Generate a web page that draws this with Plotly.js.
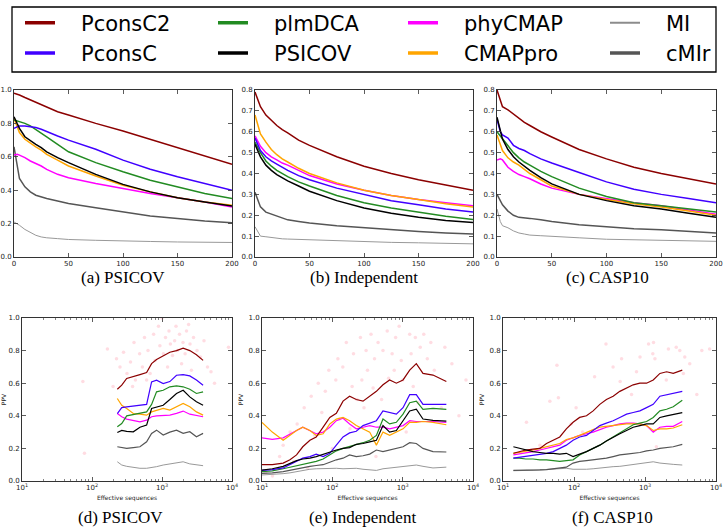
<!DOCTYPE html>
<html><head><meta charset="utf-8">
<script src="https://cdn.plot.ly/plotly-3.0.1.min.js"></script>
<style>html,body{margin:0;padding:0;background:#fff}#chart{width:725px;height:529px}</style>
</head><body><div id="chart"></div>
<script>
// ---------- series meta ----------
const seriesNames  = ['PconsC2','PconsC','plmDCA','PSICOV','phyCMAP','CMAPpro','MI','cMIr'];
const seriesColors = ['#8b0000','#4000ff','#228b22','#000000','#ff00ff','#ffa500','#8c8c8c','#555555'];
const legendColumn = ['legend','legend','legend2','legend2','legend3','legend3','legend4','legend4'];

// ---------- top row: PPV vs number of contacts ----------
const rankX = [0,3,5,10,15,20,25,30,40,50,75,100,125,150,175,200];

const A_PconsC2 = [0.98,0.975,0.97,0.955,0.94,0.925,0.91,0.895,0.87,0.85,0.80,0.755,0.705,0.655,0.605,0.555];
const A_PconsC  = [0.77,0.78,0.785,0.785,0.78,0.775,0.765,0.75,0.725,0.70,0.645,0.58,0.525,0.48,0.44,0.40];
const A_plmDCA  = [0.82,0.815,0.81,0.80,0.785,0.765,0.745,0.72,0.675,0.63,0.565,0.51,0.46,0.42,0.38,0.35];
const A_PSICOV  = [0.84,0.80,0.77,0.72,0.695,0.675,0.655,0.63,0.595,0.565,0.495,0.435,0.39,0.355,0.33,0.305];
const A_phyCMAP = [0.61,0.615,0.61,0.595,0.575,0.56,0.545,0.525,0.495,0.475,0.44,0.41,0.38,0.355,0.33,0.30];
const A_CMAPpro = [0.83,0.78,0.745,0.705,0.68,0.66,0.64,0.615,0.58,0.545,0.485,0.43,0.39,0.355,0.33,0.31];
const A_MI      = [0.21,0.20,0.19,0.165,0.145,0.13,0.12,0.115,0.11,0.105,0.10,0.095,0.093,0.09,0.088,0.087];
const A_cMIr    = [0.66,0.55,0.47,0.42,0.39,0.37,0.36,0.35,0.335,0.32,0.295,0.27,0.245,0.23,0.215,0.205];

const B_PconsC2 = [0.79,0.75,0.72,0.68,0.655,0.63,0.61,0.595,0.56,0.535,0.48,0.435,0.40,0.37,0.345,0.32];
const B_PconsC  = [0.57,0.53,0.51,0.48,0.46,0.445,0.43,0.415,0.39,0.37,0.33,0.30,0.27,0.25,0.23,0.215];
const B_plmDCA  = [0.55,0.52,0.50,0.46,0.435,0.415,0.40,0.385,0.36,0.34,0.295,0.26,0.235,0.215,0.195,0.18];
const B_PSICOV  = [0.54,0.50,0.48,0.44,0.415,0.395,0.38,0.365,0.34,0.315,0.27,0.235,0.21,0.19,0.175,0.165];
const B_phyCMAP = [0.58,0.545,0.53,0.50,0.48,0.465,0.45,0.44,0.415,0.39,0.35,0.32,0.295,0.275,0.26,0.245];
const B_CMAPpro = [0.68,0.62,0.59,0.55,0.515,0.49,0.47,0.455,0.425,0.40,0.355,0.32,0.295,0.275,0.255,0.24];
const B_MI      = [0.145,0.12,0.10,0.097,0.093,0.09,0.087,0.086,0.084,0.082,0.077,0.073,0.07,0.068,0.065,0.063];
const B_cMIr    = [0.31,0.27,0.24,0.215,0.205,0.195,0.185,0.178,0.17,0.163,0.15,0.14,0.13,0.122,0.115,0.11];

const C_PconsC2 = [0.80,0.75,0.72,0.705,0.685,0.665,0.645,0.63,0.60,0.575,0.515,0.47,0.43,0.40,0.375,0.35];
const C_PconsC  = [0.66,0.60,0.585,0.57,0.535,0.52,0.51,0.495,0.47,0.45,0.405,0.36,0.325,0.30,0.28,0.26];
const C_plmDCA  = [0.60,0.58,0.565,0.535,0.50,0.475,0.455,0.44,0.41,0.385,0.33,0.29,0.26,0.245,0.23,0.215];
const C_PSICOV  = [0.67,0.60,0.565,0.515,0.48,0.455,0.435,0.415,0.38,0.35,0.30,0.27,0.245,0.23,0.21,0.19];
const C_phyCMAP = [0.465,0.47,0.465,0.43,0.41,0.395,0.385,0.375,0.35,0.33,0.30,0.28,0.26,0.245,0.225,0.205];
const C_CMAPpro = [0.585,0.54,0.51,0.475,0.455,0.44,0.42,0.40,0.37,0.34,0.30,0.275,0.255,0.24,0.22,0.20];
const C_MI      = [0.23,0.17,0.15,0.14,0.125,0.115,0.11,0.105,0.102,0.10,0.092,0.085,0.082,0.08,0.077,0.075];
const C_cMIr    = [0.30,0.27,0.25,0.22,0.20,0.19,0.188,0.185,0.178,0.17,0.155,0.145,0.135,0.13,0.122,0.115];

// ---------- bottom row: PPV vs effective sequences ----------
const dX = [230,266,313,389,484,603,710,836,1040,1294,1611,2005,2495,3105,3864];
const D_PconsC2 = [0.563,0.588,0.629,0.639,0.653,0.665,0.72,0.745,0.77,0.79,0.80,0.815,0.80,0.775,0.74];
const D_PconsC  = [0.414,0.45,0.455,0.46,0.465,0.47,0.608,0.618,0.598,0.61,0.649,0.653,0.645,0.62,0.588];
const D_plmDCA  = [0.333,0.353,0.40,0.408,0.415,0.424,0.47,0.547,0.557,0.578,0.584,0.578,0.563,0.537,0.547];
const D_PSICOV  = [0.298,0.31,0.305,0.302,0.33,0.343,0.445,0.455,0.465,0.50,0.537,0.557,0.516,0.486,0.465];
const D_phyCMAP = [0.414,0.394,0.38,0.37,0.363,0.373,0.394,0.40,0.404,0.404,0.415,0.429,0.41,0.404,0.394];
const D_CMAPpro = [0.506,0.465,0.445,0.414,0.41,0.404,0.424,0.435,0.445,0.435,0.455,0.476,0.455,0.424,0.404];
const D_MI      = [0.118,0.098,0.09,0.082,0.078,0.078,0.082,0.088,0.098,0.105,0.112,0.118,0.105,0.098,0.094];
const D_cMIr    = [0.21,0.205,0.20,0.205,0.21,0.241,0.292,0.312,0.282,0.30,0.312,0.292,0.302,0.271,0.292];

const eX = [10,14,20,25,31,38,48,59,74,92,114,142,176,219,273,340,423,525,653,813,1012,1259,1563,1945,2698,4178];
const E_PconsC2 = [0.10,0.10,0.11,0.13,0.16,0.21,0.25,0.27,0.33,0.39,0.415,0.49,0.52,0.50,0.49,0.52,0.55,0.59,0.62,0.60,0.62,0.68,0.72,0.66,0.65,0.61];
const E_PconsC  = [0.065,0.07,0.08,0.10,0.12,0.14,0.15,0.165,0.15,0.17,0.22,0.27,0.295,0.305,0.34,0.355,0.37,0.43,0.42,0.41,0.45,0.53,0.53,0.47,0.47,0.47];
const E_plmDCA  = [0.057,0.062,0.075,0.085,0.095,0.10,0.11,0.12,0.135,0.16,0.185,0.20,0.21,0.22,0.235,0.25,0.28,0.38,0.35,0.36,0.41,0.48,0.49,0.44,0.445,0.44];
const E_PSICOV  = [0.067,0.075,0.09,0.11,0.125,0.135,0.14,0.15,0.165,0.18,0.19,0.20,0.205,0.225,0.23,0.24,0.25,0.34,0.30,0.31,0.37,0.43,0.44,0.38,0.372,0.367];
const E_phyCMAP = [0.265,0.255,0.265,0.29,0.31,0.33,0.31,0.29,0.30,0.33,0.37,0.385,0.35,0.32,0.33,0.34,0.33,0.33,0.32,0.33,0.34,0.37,0.365,0.365,0.365,0.36];
const E_CMAPpro = [0.36,0.30,0.25,0.28,0.31,0.33,0.31,0.28,0.29,0.35,0.38,0.39,0.37,0.34,0.32,0.30,0.22,0.30,0.28,0.30,0.32,0.36,0.36,0.365,0.36,0.345];
const E_MI      = [0.037,0.04,0.045,0.05,0.058,0.065,0.072,0.075,0.077,0.078,0.078,0.075,0.078,0.078,0.072,0.07,0.065,0.075,0.08,0.085,0.09,0.095,0.098,0.09,0.08,0.085];
const E_cMIr    = [0.047,0.05,0.058,0.067,0.075,0.085,0.09,0.095,0.10,0.115,0.13,0.14,0.16,0.15,0.155,0.165,0.19,0.18,0.19,0.20,0.21,0.235,0.23,0.20,0.18,0.178];

const fX = [14,17,21,26.5,33,41,51,63,78,97,120,150,186,231,286,356,442,550,682,847,1052,1306,1622,2014,2500,3350];
const F_PconsC2 = [0.17,0.18,0.19,0.195,0.20,0.23,0.25,0.27,0.32,0.36,0.39,0.40,0.43,0.47,0.50,0.52,0.55,0.57,0.59,0.60,0.60,0.62,0.66,0.67,0.66,0.68];
const F_PconsC  = [0.14,0.145,0.15,0.16,0.165,0.17,0.18,0.20,0.22,0.25,0.27,0.28,0.31,0.34,0.355,0.37,0.39,0.41,0.42,0.43,0.45,0.47,0.52,0.53,0.54,0.55];
const F_plmDCA  = [0.14,0.14,0.135,0.135,0.13,0.13,0.125,0.12,0.125,0.13,0.16,0.18,0.20,0.22,0.245,0.27,0.30,0.32,0.345,0.355,0.365,0.39,0.43,0.44,0.455,0.495];
const F_PSICOV  = [0.21,0.20,0.19,0.18,0.175,0.17,0.17,0.165,0.17,0.15,0.165,0.18,0.20,0.22,0.245,0.27,0.29,0.31,0.33,0.34,0.35,0.35,0.39,0.40,0.41,0.42];
const F_phyCMAP = [0.16,0.165,0.175,0.18,0.19,0.20,0.21,0.22,0.25,0.265,0.28,0.29,0.30,0.315,0.33,0.34,0.35,0.355,0.355,0.35,0.34,0.30,0.33,0.335,0.335,0.365];
const F_CMAPpro = [0.17,0.175,0.18,0.19,0.20,0.21,0.22,0.23,0.255,0.265,0.28,0.30,0.315,0.33,0.335,0.34,0.345,0.35,0.35,0.35,0.34,0.31,0.32,0.32,0.325,0.345];
const F_MI      = [0.063,0.063,0.064,0.066,0.068,0.07,0.072,0.075,0.078,0.072,0.07,0.072,0.075,0.08,0.085,0.088,0.09,0.095,0.10,0.105,0.11,0.118,0.11,0.105,0.102,0.098];
const F_cMIr    = [0.065,0.065,0.066,0.066,0.068,0.07,0.075,0.08,0.085,0.11,0.12,0.125,0.13,0.135,0.14,0.15,0.16,0.165,0.17,0.175,0.185,0.19,0.20,0.205,0.21,0.225];

// per-target PPV points (faint pink scatter)
const dScatX = [74,78,166,200,224,251,282,316,355,380,398,417,479,525,562,603,631,676,759,794,891,933,1000,1047,1122,1202,1259,1318,1413,1514,1585,1660,1778,1905,1995,2138,2239,2399,2512,2630,2818,3162,3548,3981,4467,5012,5623,8913];
const dScatY = [0.61,0.17,0.81,0.58,0.75,0.70,0.79,0.66,0.73,0.58,0.85,0.62,0.78,0.70,0.88,0.62,0.80,0.66,0.90,0.74,0.95,0.83,1.0,0.78,0.88,0.70,0.92,0.84,0.77,0.86,0.95,0.80,0.90,0.72,0.85,0.78,0.92,0.96,0.84,0.68,0.88,0.80,0.76,0.86,0.70,0.67,0.60,0.82];
const eScatX = [11.2,14.1,17.8,20,25.1,28.2,31.6,39.8,44.7,50.1,56.2,63.1,70.8,79.4,89.1,100,112,120,126,141,158,178,191,200,224,251,263,282,302,316,355,380,398,417,447,501,525,603,631,708,759,794,891,955,1000,1122,1259,1318,1413,1514,1660,1778,1995,2239,2512,2818,3548,3981,5012,6310,7943];
const eScatY = [0.05,0.03,0.15,0.22,0.30,0.12,0.35,0.45,0.08,0.52,0.28,0.60,0.42,0.55,0.68,0.20,0.62,0.75,0.38,0.70,0.85,0.32,0.58,0.78,0.50,0.88,0.62,0.45,0.80,0.68,0.90,0.57,0.75,0.15,0.85,0.50,0.80,0.92,0.63,0.78,0.68,0.88,0.95,0.74,0.62,0.30,0.90,0.78,0.58,0.88,0.48,0.82,0.90,0.75,0.85,0.68,0.45,0.82,0.72,0.40,0.62];
const fScatX = [21.4,33.1,45.7,57.5,60.3,91.2,107,132,195,282,355,447,468,646,759,851,1122,1288,1318,1380,1445,1995,2138,2754,3090,3467,3631,4266,5370,6310,8128];
const fScatY = [0.36,0.22,0.49,0.71,0.51,0.35,0.45,0.30,0.64,0.84,0.70,0.61,0.75,0.53,0.67,0.76,0.84,0.78,0.85,0.75,0.21,0.62,0.81,0.82,0.80,0.66,0.76,0.72,0.53,0.80,0.81];

// ---------- tick labels ----------
const topXTicks = [0,50,100,150,200];
const logTickVals = [10,100,1000,10000];
const logTickText = ['10<sup>1</sup>','10<sup>2</sup>','10<sup>3</sup>','10<sup>4</sup>'];
const logMinorVals = [20,30,40,50,60,70,80,90,200,300,400,500,600,700,800,900,2000,3000,4000,5000,6000,7000,8000,9000];
const captions = ['(a) PSICOV','(b) Independent','(c) CASP10','(d) PSICOV','(e) Independent','(f) CASP10'];

// ---------- build ----------
const W = 725, H = 529;
const px = v => v / W, py = v => 1 - v / H;

const panels = [
  {ax:'', xs:rankX, ys:[A_PconsC2,A_PconsC,A_plmDCA,A_PSICOV,A_phyCMAP,A_CMAPpro,A_MI,A_cMIr]},
  {ax:'2', xs:rankX, ys:[B_PconsC2,B_PconsC,B_plmDCA,B_PSICOV,B_phyCMAP,B_CMAPpro,B_MI,B_cMIr]},
  {ax:'3', xs:rankX, ys:[C_PconsC2,C_PconsC,C_plmDCA,C_PSICOV,C_phyCMAP,C_CMAPpro,C_MI,C_cMIr]},
  {ax:'4', xs:dX, ys:[D_PconsC2,D_PconsC,D_plmDCA,D_PSICOV,D_phyCMAP,D_CMAPpro,D_MI,D_cMIr], sx:dScatX, sy:dScatY},
  {ax:'5', xs:eX, ys:[E_PconsC2,E_PconsC,E_plmDCA,E_PSICOV,E_phyCMAP,E_CMAPpro,E_MI,E_cMIr], sx:eScatX, sy:eScatY},
  {ax:'6', xs:fX, ys:[F_PconsC2,F_PconsC,F_plmDCA,F_PSICOV,F_phyCMAP,F_CMAPpro,F_MI,F_cMIr], sx:fScatX, sy:fScatY}
];
const drawOrder = [6,7,4,5,2,1,0,3];

const traces = [];
panels.forEach((p, pi) => {
  const bottom = pi >= 3;
  if (p.sx) {
    traces.push({type:'scatter', mode:'markers', x:p.sx, y:p.sy, xaxis:'x'+p.ax, yaxis:'y'+p.ax,
      showlegend:false, hoverinfo:'skip',
      marker:{size:3.5, symbol:'circle', color:'rgba(255,140,160,0.3)', line:{width:0}}});
  }
  drawOrder.forEach(i => {
    traces.push({type:'scatter', mode:'lines', x:p.xs, y:p.ys[i], name:seriesNames[i],
      xaxis:'x'+p.ax, yaxis:'y'+p.ax, showlegend:false, hoverinfo:'skip',
      line:{color: i===6 ? '#999999' : seriesColors[i], width: i===6 ? 1.0 : (bottom ? 1.2 : 1.5)}});
  });
});
// legend entries (em space keeps the gap between the line sample and the label)
seriesNames.forEach((n, i) => {
  traces.push({type:'scatter', mode:'lines', x:[null], y:[null], name:'\u2003' + n, xaxis:'x', yaxis:'y',
    legend: legendColumn[i], showlegend:true, hoverinfo:'skip',
    line:{color:seriesColors[i], width: i===6 ? 2 : 3.5}});
});

const tickFont = {family:'DejaVu Sans, sans-serif', size:7, color:'#222'};
const axisBase = {showline:true, linecolor:'#333', linewidth:1, mirror:'allticks', ticks:'inside',
  ticklen:4, tickwidth:0.8, tickcolor:'#333', showgrid:false, zeroline:false, tickfont:tickFont, fixedrange:true};

const topY = [90, 257], botY = [318, 481];
const topXs = [[14,232],[255,473],[497,716]];
const botXs = [[22,232],[262,473],[503,716]];

const layout = {
  width: W, height: H, margin:{l:0,r:0,t:0,b:0}, paper_bgcolor:'#fff', plot_bgcolor:'#fff',
  showlegend: true, shapes: [], annotations: []
};
for (let k = 0; k < 3; k++) {
  const s = k === 0 ? '' : String(k+1);
  layout['xaxis'+s] = Object.assign({}, axisBase, {domain:[px(topXs[k][0]), px(topXs[k][1])], range:[0,200],
    tickvals: topXTicks, anchor:'y'+s});
  layout['yaxis'+s] = Object.assign({}, axisBase, {domain:[py(topY[1]), py(topY[0])],
    range: k === 0 ? [0,1] : [0,0.8], dtick: k === 0 ? 0.2 : 0.1, tick0:0, tickformat:'.1f', anchor:'x'+s});
}
for (let k = 0; k < 3; k++) {
  const s = String(k+4);
  layout['xaxis'+s] = Object.assign({}, axisBase, {domain:[px(botXs[k][0]), px(botXs[k][1])], type:'log', range:[1,4],
    tickvals: logTickVals, ticktext: logTickText, anchor:'y'+s,
    minor:{ticks:'inside', ticklen:2, tickwidth:0.6, tickcolor:'#333', tickvals: logMinorVals},
    title:{text:'Effective sequences', font:{family:'DejaVu Sans, sans-serif', size:6, color:'#222'}, standoff:4}});
  layout['yaxis'+s] = Object.assign({}, axisBase, {domain:[py(botY[1]), py(botY[0])], range:[0,1], dtick:0.2, tick0:0,
    tickformat:'.1f', anchor:'x'+s,
    title:{text:'PPV', font:{family:'DejaVu Sans, sans-serif', size:6, color:'#222'}, standoff:4}});
}

// captions
const capPos = [[123,277],[364,277],[607,277],[120,517],[362,517],[612,517]];
captions.forEach((c, i) => {
  layout.annotations.push({text:c, xref:'paper', yref:'paper', x:px(capPos[i][0]), y:py(capPos[i][1]),
    xanchor:'center', yanchor:'middle', showarrow:false,
    font:{family:'Liberation Serif, DejaVu Serif, serif', size:17, color:'#000'}});
});

// legend columns
const legendFont = {family:'DejaVu Sans, sans-serif', size:21, color:'#000'};
const legCols = [20, 213, 403, 605];
['legend','legend2','legend3','legend4'].forEach((lg, i) => {
  layout[lg] = {x: px(legCols[i]), y: py(2.5), xanchor:'left', yanchor:'top', orientation:'v',
    bgcolor:'rgba(0,0,0,0)', borderwidth:0, font: legendFont, itemwidth:30, tracegroupgap:0,
    itemclick:false, itemdoubleclick:false};
});
layout.shapes.push({type:'rect', xref:'paper', yref:'paper', x0:px(12), x1:px(716), y0:py(72), y1:py(7),
  line:{color:'#000', width:1.3}, fillcolor:'rgba(0,0,0,0)'});

Plotly.newPlot('chart', traces, layout, {staticPlot:true, displayModeBar:false});
</script>
</body></html>
